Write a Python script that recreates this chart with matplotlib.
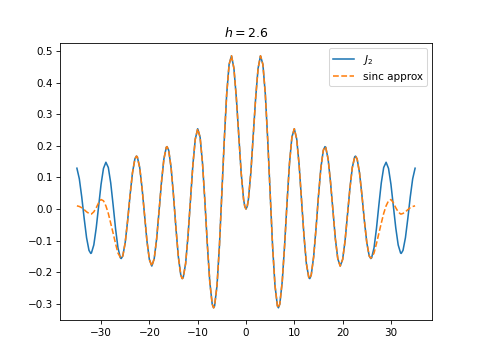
import numpy as np
import matplotlib
matplotlib.use("Agg")
import matplotlib.pyplot as plt

# right half of the curves (x >= 0), the plot is symmetric about x = 0
x_half = [0, 0.25, 0.5, 1, 1.5, 2, 2.5, 3, 3.5, 4,
          4.5, 5, 5.5, 6, 6.5, 6.71, 7, 7.5, 8, 8.5,
          9, 9.5, 10, 10.5, 11, 11.5, 12, 12.5, 13, 13.2,
          13.5, 14, 14.5, 15, 15.5, 16, 16.35, 16.5, 17, 17.5,
          18, 18.5, 19, 19.5, 20, 20.5, 21, 21.5, 22, 22.5,
          22.67, 23, 23.5, 24, 24.5, 25, 25.5, 25.83, 26, 26.5,
          27, 27.5, 28, 28.5, 29, 29.5, 30, 30.5, 31, 31.5,
          32, 32.13, 32.5, 33, 33.5, 34, 34.5, 35]

j2_half = [0.0, 0.0078, 0.0306, 0.1149, 0.2321, 0.3528, 0.4461, 0.4861, 0.4586, 0.3641,
           0.2178, 0.0466, -0.1173, -0.2429, -0.3074, -0.3135, -0.3014, -0.2303, -0.1130, 0.0223,
           0.1448, 0.2279, 0.2546, 0.2216, 0.1390, 0.0279, -0.0849, -0.1734, -0.2177, -0.2209,
           -0.2094, -0.1520, -0.0608, 0.0416, 0.1308, 0.1862, 0.1979, 0.1957, 0.1584, 0.0844,
           -0.0075, -0.0952, -0.1578, -0.1810, -0.1603, -0.1018, -0.0203, 0.0642, 0.1313, 0.1654,
           0.1678, 0.1590, 0.1145, 0.0434, -0.0367, -0.1063, -0.1489, -0.1572, -0.1549, -0.1233,
           -0.0626, 0.0121, 0.0825, 0.1317, 0.1483, 0.1288, 0.0785, 0.0100, -0.0598, -0.1140,
           -0.1397, -0.1409, -0.1313, -0.0912, -0.0296, 0.0382, 0.0958, 0.1294]

sinc_half = [0.0, 0.0078, 0.0306, 0.1149, 0.2321, 0.3528, 0.4461, 0.4861, 0.4586, 0.3641,
             0.2178, 0.0466, -0.1173, -0.2429, -0.3074, -0.3135, -0.3014, -0.2303, -0.1130, 0.0223,
             0.1448, 0.2279, 0.2546, 0.2216, 0.1390, 0.0279, -0.0849, -0.1734, -0.2177, -0.2209,
             -0.2094, -0.1520, -0.0608, 0.0416, 0.1308, 0.1862, 0.1979, 0.1957, 0.1584, 0.0844,
             -0.0075, -0.0952, -0.1578, -0.1810, -0.1603, -0.1018, -0.0203, 0.0642, 0.1313, 0.1654,
             0.1678, 0.1590, 0.1145, 0.0434, -0.0367, -0.1063, -0.1489, -0.1560, -0.1535, -0.1400,
             -0.1100, -0.0770, -0.0450, -0.0140, 0.0100, 0.0260, 0.0300, 0.0200, 0.0040, -0.0090,
             -0.0160, -0.0160, -0.0140, -0.0090, -0.0020, 0.0040, 0.0080, 0.0100]

x_half = np.array(x_half)
x = np.concatenate([-x_half[::-1], x_half[1:]])
j2 = np.concatenate([np.array(j2_half)[::-1], np.array(j2_half)[1:]])
sinc = np.concatenate([np.array(sinc_half)[::-1], np.array(sinc_half)[1:]])

plt.figure(figsize=(6.4, 4.8), dpi=75)
plt.plot(x, j2, label="$J_2$")
plt.plot(x, sinc, "--", label="sinc approx")
plt.title("$h = 2.6$")
plt.legend(loc="upper right")
plt.savefig("out.png")
